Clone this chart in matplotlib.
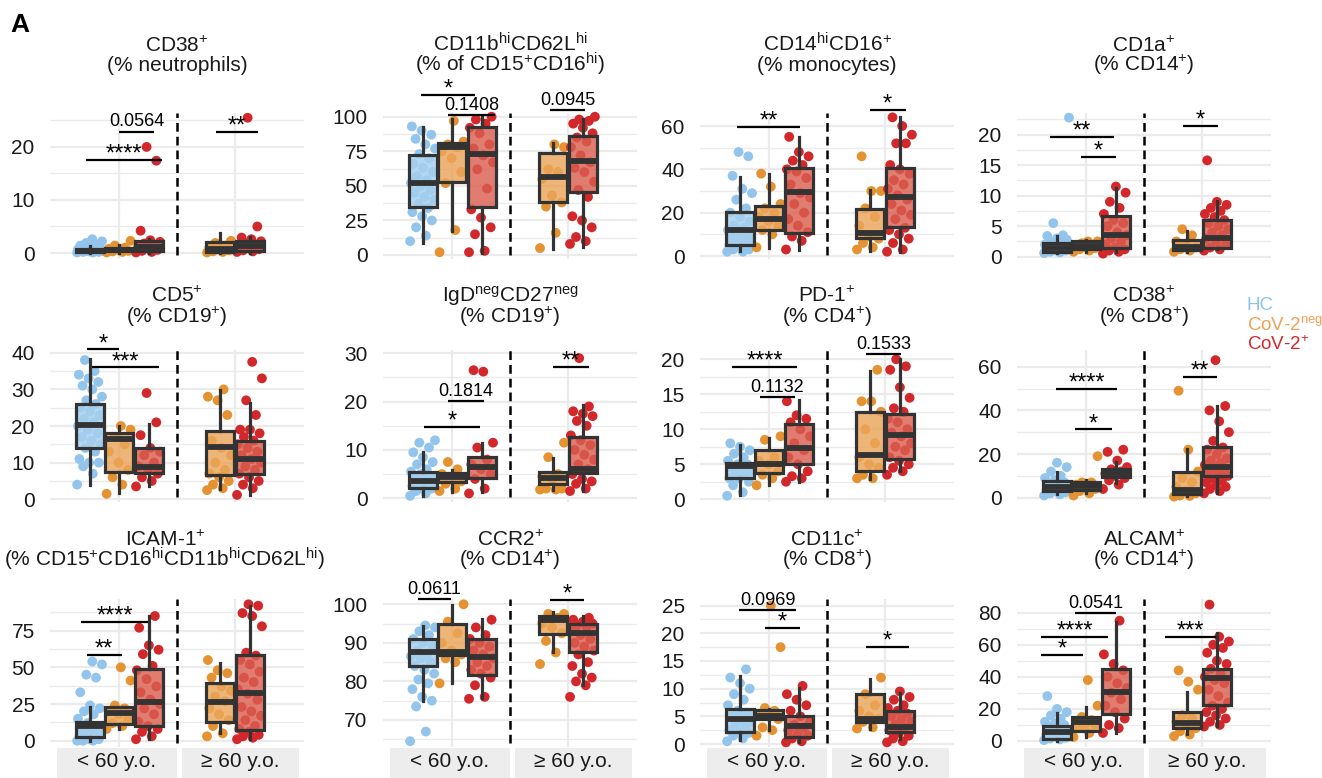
# -*- coding: utf-8 -*-
"""Box plots of immune phenotypes: HC vs CoV-2neg vs CoV-2+, split by age."""
import matplotlib
matplotlib.use('Agg')
# pylint: disable=wrong-import-position
import matplotlib.pyplot as plt
import matplotlib.transforms as mtransforms
from matplotlib.colors import to_rgba
from matplotlib.patches import Rectangle

plt.rcParams['font.family'] = ['Liberation Sans', 'DejaVu Sans']
plt.rcParams['mathtext.fontset'] = 'custom'
plt.rcParams['mathtext.rm'] = 'Liberation Sans'
plt.rcParams['mathtext.it'] = 'Liberation Sans:italic'
plt.rcParams['mathtext.bf'] = 'Liberation Sans:bold'

# groups, in drawing order: HC, CoV-2neg <60, CoV-2+ <60, CoV-2neg >=60, CoV-2+ >=60
GROUP_KIND = [0, 1, 2, 1, 2]
LEGEND_LABELS = ['HC', 'CoV-2$^{\\mathrm{neg}}$', 'CoV-2$^{+}$']
AGE_LABELS = ['< 60 y.o.', '\u2265 60 y.o.']

# ---- data ---------------------------------------------------------------
# boxes: (whisker low, q1, median, q3, whisker high) per group
P1_TITLE = ('CD38$^{+}$', '(% neutrophils)')
P1_TICKS = [0, 10, 20]
P1_BOX = [(0.0, 0.2, 0.4, 0.7, 1.3), (0.0, 0.3, 0.5, 1.0, 1.6),
          (0.0, 0.4, 1.2, 2.2, 2.6), (0.0, 0.2, 0.7, 2.0, 3.8),
          (0.0, 0.3, 1.3, 2.2, 3.0)]
P1_PTS = [[0.1, 0.1, 0.2, 0.2, 0.3, 0.3, 0.3, 0.4, 0.4, 0.5, 0.5, 0.6, 0.6,
           0.7, 0.8, 0.9, 1.0, 1.2, 1.4, 1.6, 1.9, 2.2, 2.6],
          [0.1, 0.2, 0.3, 0.4, 0.6, 0.8, 1.0, 1.4, 2.3],
          [0.1, 0.2, 0.4, 0.6, 0.9, 1.2, 1.5, 1.8, 2.1, 2.4, 4.2, 17.4, 20.0],
          [0.1, 0.2, 0.3, 0.5, 0.7, 1.0, 1.4, 1.9, 2.3],
          [0.2, 0.3, 0.5, 0.7, 0.9, 1.2, 1.5, 1.8, 2.2, 2.6, 2.9, 5.0, 25.5]]
P1_SIG = [(0.71, 1.37, 17.5, '****'), (1.0, 1.30, 22.9, '0.0564'),
          (1.84, 2.20, 22.9, '**')]

P2_TITLE = ('CD11b$^{\\mathrm{hi}}$CD62L$^{\\mathrm{hi}}$',
            '(% of CD15$^{+}$CD16$^{\\mathrm{hi}}$)')
P2_TICKS = [0, 25, 50, 75, 100]
P2_BOX = [(8.4, 34.5, 52.3, 72.3, 92.8), (17, 53, 78, 81, 98),
          (1.2, 34.5, 73, 92.8, 99.5), (4, 38.6, 56.6, 73.5, 80.7),
          (6, 45.8, 68, 86, 98)]
P2_PTS = [[10, 14, 20, 25, 28, 31, 34, 37, 40, 42, 45, 47, 50, 52, 54, 57, 60,
           63, 66, 70, 73, 77, 80, 84, 87, 90, 93],
          [2, 18, 52, 60, 70, 75, 78, 80, 82, 97],
          [2, 3, 15, 20, 27, 33, 48, 62, 67, 72, 77, 80, 88, 92, 95, 98, 100],
          [5, 16, 35, 38, 43, 55, 60, 62, 78, 80],
          [8, 10, 13, 20, 25, 28, 42, 47, 53, 60, 63, 67, 72, 78, 82, 85, 88,
           92, 95, 97, 98, 100]]
P2_SIG = [(0.73, 1.2, 115.7, '*'), (0.965, 1.37, 101.2, '0.1408'),
          (1.85, 2.15, 104.8, '0.0945')]

P3_TITLE = ('CD14$^{\\mathrm{hi}}$CD16$^{+}$', '(% monocytes)')
P3_TICKS = [0, 20, 40, 60]
P3_BOX = [(2.5, 5.1, 12, 20.5, 36.6), (3.5, 12, 17, 23, 38),
          (3, 10.5, 29.7, 40.5, 55), (2.5, 8.2, 10.5, 21.5, 30.5),
          (2, 13.5, 27.4, 40.5, 64)]
P3_PTS = [[2, 2, 3, 3, 4, 5, 5, 6, 7, 8, 9, 10, 11, 12, 13, 14, 16, 18, 20,
           22, 26, 29, 31, 37, 46, 48],
          [4, 10, 12, 14, 16, 18, 20, 22, 24, 32, 38],
          [3, 7, 9, 11, 14, 17, 20, 24, 27, 29, 33, 36, 39, 40, 42, 44, 46, 48,
           55],
          [3, 4, 6, 8, 9, 14, 18, 22, 30, 30, 46],
          [2, 3, 6, 8, 10, 12, 13, 17, 19, 21, 24, 26, 28, 31, 33, 35, 38, 40,
           42, 52, 52, 56, 60, 64]]
P3_SIG = [(0.72, 1.27, 59.7, '**'), (1.87, 2.18, 67.4, '*')]

P4_TITLE = ('CD1a$^{+}$', '(% CD14$^{+}$)')
P4_TICKS = [0, 5, 10, 15, 20]
P4_BOX = [(0.65, 0.8, 1.5, 2.2, 3.4), (0.8, 1.2, 1.8, 2.5, 2.7),
          (0.8, 1.4, 3.6, 6.7, 11.2), (0.8, 1.1, 1.6, 2.8, 4.2),
          (1.2, 1.4, 3.0, 6.0, 9.1)]
P4_PTS = [[0.6, 0.7, 0.8, 1.0, 1.0, 1.1, 1.2, 1.3, 1.4, 1.5, 1.6, 1.7, 1.9,
           2.0, 2.2, 2.5, 2.8, 3.0, 3.4, 3.5, 5.5, 22.8],
          [0.8, 1.0, 1.2, 1.4, 1.5, 1.8, 2.0, 2.2, 2.5, 2.5],
          [0.5, 0.8, 1.0, 1.2, 1.5, 2.0, 2.5, 3.0, 3.5, 4.0, 5.0, 5.5, 6.0,
           7.0, 8.0, 9.0, 10.5, 11.5],
          [0.8, 1.0, 1.2, 1.5, 2.0, 2.5, 3.5, 4.5],
          [1.0, 1.2, 1.5, 2.0, 2.5, 3.0, 3.5, 4.0, 4.5, 5.0, 5.5, 6.0, 6.5,
           7.0, 7.5, 8.0, 8.5, 9.0, 15.8]]
P4_SIG = [(0.69, 1.24, 19.6, '**'), (0.95, 1.26, 16.4, '*'),
          (1.84, 2.14, 21.5, '*')]

P5_TITLE = ('CD5$^{+}$', '(% CD19$^{+}$)')
P5_TICKS = [0, 10, 20, 30, 40]
P5_BOX = [(3.9, 13.9, 20.3, 26, 38.2), (1.8, 7.5, 16.5, 18.2, 20),
          (3.6, 7.1, 8.8, 14.1, 20.5), (2.7, 6.6, 14.4, 18.5, 29.8),
          (1.2, 6.9, 10.9, 16, 26.2)]
P5_PTS = [[4, 7, 9, 10, 10, 11, 13, 14, 15, 16, 17, 18, 19, 20, 21, 22, 23, 24,
           25, 26, 27, 28, 30, 31, 32, 33, 34, 35, 38],
          [1.5, 4, 6, 8, 10, 13, 15, 17, 19, 20],
          [3.5, 5, 6, 7, 8, 9, 10, 12, 13, 14, 17.5, 21, 29],
          [2.5, 3, 4, 5, 6, 7, 8, 10, 12, 14, 16, 23, 27, 28, 30],
          [1.2, 3, 4, 5, 6, 7, 8, 9, 10, 11, 12, 13, 14, 15, 16, 17, 18, 19, 19,
           23, 27, 33, 37.5]]
P5_SIG = [(0.72, 1.0, 40.9, '*'), (0.76, 1.34, 36.0, '***')]

P6_TITLE = ('IgD$^{\\mathrm{neg}}$CD27$^{\\mathrm{neg}}$', '(% CD19$^{+}$)')
P6_TICKS = [0, 10, 20, 30]
P6_BOX = [(0.5, 2.1, 3.5, 5.5, 9.6), (1.4, 3.4, 4.3, 5.2, 5.9),
          (1.4, 4.1, 6.4, 8.6, 11.4), (1.8, 2.9, 4.1, 5.5, 8.3),
          (1.6, 5.3, 6.0, 12.6, 19.3)]
P6_PTS = [[0.5, 1, 1.5, 2, 2, 2.5, 3, 3, 3.5, 4, 4, 4.5, 5, 5.5, 6, 7, 7.5,
           8.5, 9.5, 10.5, 11.5, 12],
          [1.5, 2, 3, 3.5, 4, 5, 6, 7.5],
          [1, 2, 4, 5, 6, 7, 8, 10.5, 11.5, 26.2, 26.5],
          [1.8, 1.8, 2, 2, 4, 4.5, 5, 8.5, 11.5],
          [1.5, 2, 3, 3.5, 4, 5, 6, 7, 8, 9, 10, 11, 12, 13, 15, 16, 17, 17.5,
           18, 19, 29]]
P6_SIG = [(0.965, 1.275, 20.1, '0.1814'), (0.755, 1.24, 14.8, '*'),
          (1.87, 2.18, 27.1, '**')]

P7_TITLE = ('PD-1$^{+}$', '(% CD4$^{+}$)')
P7_TICKS = [0, 5, 10, 15, 20]
P7_BOX = [(0.6, 3.1, 4.7, 5.2, 7.8), (2, 3.7, 5.1, 7.1, 8.7),
          (2.5, 5.0, 7.3, 10.8, 14.2), (2.9, 4.1, 6.3, 12.5, 18.4),
          (4, 5.7, 9.2, 12.2, 20)]
P7_PTS = [[0.5, 1, 2, 2.5, 3, 3, 3.5, 4, 4, 4.5, 4.5, 5, 5, 5.5, 6, 6.5, 7,
           7.5, 8],
          [2, 3, 3.5, 4, 5, 5.5, 6, 8.5, 9],
          [2.5, 3, 3.3, 4, 5, 6, 7, 8, 9, 10, 11, 11.5, 12, 14],
          [3, 3, 3.5, 4.5, 5, 6, 8, 10, 12.5, 14, 14, 18.5],
          [3.5, 4, 4.5, 5, 5.5, 6, 7, 7.5, 8, 9, 9.5, 10, 11, 11.5, 12.5, 13,
           14.5, 16, 18.5, 19, 20]]
P7_SIG = [(0.68, 1.24, 18.9, '****'), (0.92, 1.22, 14.6, '0.1132'),
          (1.84, 2.14, 20.7, '0.1533')]

P8_TITLE = ('CD38$^{+}$', '(% CD8$^{+}$)')
P8_TICKS = [0, 20, 40, 60]
P8_BOX = [(1.7, 3.2, 5, 7.8, 11.9), (2.3, 3.5, 5.3, 7.3, 8),
          (6.6, 9.6, 11.5, 13, 16.5), (0.8, 1.7, 3.5, 11.9, 22.2),
          (2.3, 10, 14, 23, 42)]
P8_PTS = [[1, 1.5, 2, 2.5, 3, 3.5, 4, 4.5, 5, 5.5, 6, 7, 8, 9, 10, 12, 14, 16],
          [1, 2, 3, 4, 5, 6, 7, 7, 19],
          [4, 6, 8, 9, 10, 11, 12, 13, 14, 17, 21, 22],
          [0.5, 0.8, 1, 2, 3, 5, 7, 9, 12, 22, 49],
          [2, 3, 4, 5, 6, 7, 8, 9, 10, 11, 12, 13, 14, 15, 16, 17, 18, 20, 22,
           23, 26, 30, 35, 40, 42, 63]]
P8_SIG = [(0.74, 1.27, 49.8, '****'), (0.90, 1.22, 31.3, '*'),
          (1.84, 2.13, 55.4, '**')]

P9_TITLE = ('ICAM-1$^{+}$', '(% CD15$^{+}$CD16$^{\\mathrm{hi}}$CD11b'
            '$^{\\mathrm{hi}}$CD62L$^{\\mathrm{hi}}$)')
P9_TICKS = [0, 25, 50, 75]
P9_BOX = [(0, 2.3, 10, 13, 22.7), (7.7, 11.4, 19.1, 23.2, 23.2),
          (1, 10, 26.6, 48.7, 85), (5, 13, 26.6, 39.6, 53.2),
          (1, 7.3, 32.3, 58.4, 91.8)]
P9_PTS = [[0, 0, 0, 1, 1, 2, 3, 4, 5, 6, 8, 10, 12, 15, 18, 20, 22, 24, 33, 43,
           45, 52, 54],
          [8, 10, 12, 15, 18, 20, 22, 24, 41, 50],
          [1, 3, 6, 8, 10, 13, 18, 22, 25, 28, 33, 37, 42, 48, 51, 59, 62, 65,
           77, 85],
          [3, 5, 10, 14, 18, 22, 27, 30, 34, 37, 43, 46, 48, 55],
          [1, 2, 3, 4, 6, 8, 10, 14, 17, 20, 23, 28, 32, 35, 40, 43, 47, 52, 55,
           58, 60, 78, 85, 87, 92, 93]]
P9_SIG = [(0.67, 1.25, 81.1, '****'), (0.72, 1.02, 58.4, '**')]

P10_TITLE = ('CCR2$^{+}$', '(% CD14$^{+}$)')
P10_TICKS = [70, 80, 90, 100]
P10_BOX = [(74.8, 84, 87.7, 90.9, 94.4), (79.5, 86.9, 87.7, 94.9, 99.8),
           (75.6, 81.7, 86.4, 90.9, 96.1), (87.7, 92.3, 96, 97, 98.1),
           (79, 87.7, 92.6, 94.9, 97)]
P10_PTS = [[64.5, 67, 73.5, 75, 76, 78, 79.5, 80.5, 82, 83, 84, 85, 86, 86.5,
            87, 88, 89, 90, 91, 92, 93, 94, 94.5],
           [79.5, 85, 86, 87, 88, 90, 92.5, 95.5, 100],
           [75.5, 76, 79, 81, 82, 83, 84, 85, 86, 87, 88, 89, 90, 91, 92, 94,
            96],
           [84.5, 87.5, 90.5, 92.5, 94, 95, 96.5, 97.5, 97.5],
           [76, 79, 80, 81, 82, 84, 85, 87, 88, 89, 90, 91, 92, 93, 94, 94.5,
            95, 95.5, 96, 96.5]]
P10_SIG = [(0.70, 0.99, 101.3, '0.0611'), (1.85, 2.14, 101.1, '*')]

P11_TITLE = ('CD11c$^{+}$', '(% CD8$^{+}$)')
P11_TICKS = [0, 5, 10, 15, 20, 25]
P11_BOX = [(0.7, 2.2, 4.6, 6.3, 12.2), (2.5, 4.6, 5.1, 6.1, 6.4),
           (0.4, 1.3, 3.3, 5.1, 10.2), (2.8, 4.0, 4.6, 9.0, 11.7),
           (0.85, 2.2, 3.0, 6.0, 9.3)]
P11_PTS = [[0.5, 1, 1.5, 2, 2, 2.5, 3, 3.5, 4, 4.5, 5, 5.5, 6, 7, 8, 9, 10, 11,
            12, 13.5],
           [1.5, 2.5, 3, 4.5, 5, 5.5, 6, 6.5, 17.5, 25],
           [0.3, 0.5, 1, 1.5, 2, 2.5, 3, 3.5, 4, 5, 6, 7, 8, 9, 10.5],
           [2.8, 3, 4, 4.5, 5, 6, 7, 9, 12],
           [0.3, 0.5, 1, 1.5, 2, 2.5, 3, 3.5, 4, 4.5, 5, 5.5, 6, 6.5, 7, 8, 8.5,
            9.5]]
P11_SIG = [(0.74, 1.23, 24.2, '0.0969'), (0.96, 1.27, 20.9, '*'),
           (1.84, 2.21, 17.5, '*')]

P12_TITLE = ('ALCAM$^{+}$', '(% CD14$^{+}$)')
P12_TICKS = [0, 20, 40, 60, 80]
P12_BOX = [(0.2, 1, 5.8, 9.4, 17.7), (2.7, 6.4, 12, 14.8, 21.4),
           (4.8, 16.8, 30.8, 44.7, 74.4), (4.4, 7.9, 11.4, 18.3, 30.8),
           (9.4, 22.5, 39, 44.7, 67.2)]
P12_PTS = [[0.5, 1, 1.5, 2, 3, 4, 5, 6, 7, 8, 9, 10, 11, 12, 14, 16, 18, 20,
            28],
           [2.5, 5, 8, 10, 11, 12, 13, 15, 22, 38],
           [5, 8, 10, 14, 18, 22, 26, 30, 33, 36, 40, 44, 48, 54, 75],
           [3, 4, 6, 8, 10, 12, 14, 16, 32, 37, 44],
           [9, 10, 12, 14, 16, 18, 20, 22, 24, 28, 32, 36, 38, 40, 42, 45, 48,
            50, 55, 58, 60, 62, 65, 85]]
P12_SIG = [(0.90, 1.26, 79.6, '0.0541'), (0.61, 1.19, 65.0, '****'),
           (0.61, 0.97, 53.6, '*'), (1.68, 2.12, 65.0, '***')]

# y ranges of each panel (grid order)
YLIMS = [(-1.13, 26.4), (-2.9, 102.7), (-1.38, 66.0), (-0.38, 23.56),
         (-0.74, 40.74), (-0.77, 30.68), (-0.39, 21.33), (-1.97, 67.65),
         (-4.3, 96.6), (63.0, 101.37), (-0.54, 26.2), (-3.74, 88.5)]

PANELS = [
    (P1_TITLE, P1_TICKS, P1_BOX, P1_PTS, P1_SIG),
    (P2_TITLE, P2_TICKS, P2_BOX, P2_PTS, P2_SIG),
    (P3_TITLE, P3_TICKS, P3_BOX, P3_PTS, P3_SIG),
    (P4_TITLE, P4_TICKS, P4_BOX, P4_PTS, P4_SIG),
    (P5_TITLE, P5_TICKS, P5_BOX, P5_PTS, P5_SIG),
    (P6_TITLE, P6_TICKS, P6_BOX, P6_PTS, P6_SIG),
    (P7_TITLE, P7_TICKS, P7_BOX, P7_PTS, P7_SIG),
    (P8_TITLE, P8_TICKS, P8_BOX, P8_PTS, P8_SIG),
    (P9_TITLE, P9_TICKS, P9_BOX, P9_PTS, P9_SIG),
    (P10_TITLE, P10_TICKS, P10_BOX, P10_PTS, P10_SIG),
    (P11_TITLE, P11_TICKS, P11_BOX, P11_PTS, P11_SIG),
    (P12_TITLE, P12_TICKS, P12_BOX, P12_PTS, P12_SIG),
]

# ---- styling / layout ---------------------------------------------------
FIG_W, FIG_H = 1322, 778
COL_LEFT_PX = [50, 383, 700, 1017]
PANEL_W_PX = 254
ROW_TOP_PX = [113, 350, 599]
ROW_BOT_PX = [259, 502, 747]
TITLE_BASE_PX = [(51.7, 71.0), (301.5, 323.0), (546.0, 566.5)]
TITLE_CENTER_SHIFT_PX = {8: -12}

POSITIONS = [0.745, 1.0, 1.255, 1.87, 2.13]
POINT_COLORS = ['#93C5EC', '#E59332', '#D3282B']
BOX_FILLS = ['#A6CFEE', '#EBA55A', '#DA5F50']
LEGEND_COLORS = ['#8EC3EC', '#F0A158', '#D3282B']
EDGE = '#333333'
GRID = '#EBEBEB'


def jitter(n, width=0.11):
    """Deterministic spread of n points across +-width."""
    return [((i * 0.6180339887) % 1.0 - 0.5) * 2 * width for i in range(n)]


def draw_panel(fig, idx, spec, ylim):
    """One boxplot panel."""
    title, ticks, boxes, points, sigs = spec
    row, col = divmod(idx, 4)
    top, bot = ROW_TOP_PX[row], ROW_BOT_PX[row]
    ax = fig.add_axes([COL_LEFT_PX[col] / FIG_W, 1 - bot / FIG_H,
                       PANEL_W_PX / FIG_W, (bot - top) / FIG_H])
    ax.set_xlim(0.4, 2.6)
    ax.set_ylim(*ylim)
    for spine in ax.spines.values():
        spine.set_visible(False)
    ax.set_xticks([])
    ax.set_yticks(ticks)
    ax.tick_params(axis='y', length=0, labelsize=15, pad=11,
                   labelcolor='#1a1a1a')

    # grid
    step = ticks[1] - ticks[0]
    for t in ticks:
        ax.axhline(t, color=GRID, lw=1.6, zorder=0)
    minor = ticks[0] - step / 2
    while minor <= ylim[1]:
        if minor >= ylim[0]:
            ax.axhline(minor, color=GRID, lw=1.0, zorder=0)
        minor += step
    for xv in (1, 2):
        ax.axvline(xv, color=GRID, lw=1.6, zorder=0)
    ax.axvline(1.5, ymin=0.03, ymax=1, color='black', lw=1.8,
               ls=(0, (3.5, 2)), zorder=1)

    # points
    for g, vals in enumerate(points):
        offs = jitter(len(vals))
        ax.scatter([POSITIONS[g] + o for o in offs], vals, s=50,
                   color=POINT_COLORS[GROUP_KIND[g]], edgecolors='none',
                   zorder=2, clip_on=False)

    # boxes
    stats = [dict(whislo=b[0], q1=b[1], med=b[2], q3=b[3], whishi=b[4],
                  fliers=[]) for b in boxes]
    res = ax.bxp(stats, positions=POSITIONS, widths=0.24, patch_artist=True,
                 showfliers=False, showcaps=False, manage_ticks=False,
                 boxprops=dict(edgecolor=EDGE, linewidth=2.3),
                 whiskerprops=dict(color=EDGE, linewidth=2.3),
                 medianprops=dict(color=EDGE, linewidth=4.2,
                                  solid_capstyle='butt'),
                 zorder=3)
    for g, patch in enumerate(res['boxes']):
        patch.set_facecolor(to_rgba(BOX_FILLS[GROUP_KIND[g]], 0.82))

    # significance brackets
    for x1, x2, yv, label in sigs:
        ax.plot([x1, x2], [yv, yv], color='black', lw=1.6, clip_on=False,
                zorder=4, solid_capstyle='butt')
        if label.startswith('*'):
            ax.annotate(label, ((x1 + x2) / 2, yv), xytext=(0, -0.5),
                        textcoords='offset points', ha='center',
                        va='baseline', fontsize=17, annotation_clip=False)
        else:
            ax.annotate(label, ((x1 + x2) / 2, yv), xytext=(0, 1),
                        textcoords='offset points', ha='center',
                        va='bottom', fontsize=13, annotation_clip=False)

    # titles
    cx = (COL_LEFT_PX[col] + PANEL_W_PX / 2
          + TITLE_CENTER_SHIFT_PX.get(idx, 0)) / FIG_W
    for line, base in zip(title, TITLE_BASE_PX[row]):
        fig.text(cx, 1 - base / FIG_H, line, ha='center', va='baseline',
                 fontsize=15, color='#1a1a1a')

    # age strips on bottom row
    if row == 2:
        trans = mtransforms.blended_transform_factory(ax.transData,
                                                      ax.transAxes)
        for (x0, x1), lab in zip([(0.46, 1.5), (1.54, 2.56)], AGE_LABELS):
            ax.add_patch(Rectangle((x0, -0.24), x1 - x0, 0.23,
                                   transform=trans, facecolor='#EDEDED',
                                   edgecolor='none', clip_on=False))
            ax.text((x0 + x1) / 2, -0.095, lab, transform=trans,
                    ha='center', va='center', fontsize=15, color='#1a1a1a')
    return ax


def main():
    """main."""
    fig = plt.figure(figsize=(FIG_W / 100, FIG_H / 100), dpi=100)
    for idx, spec in enumerate(PANELS):
        draw_panel(fig, idx, spec, YLIMS[idx])

    for lab, col, base in zip(LEGEND_LABELS, LEGEND_COLORS,
                              [310, 330, 350]):
        fig.text(1247 / FIG_W, 1 - base / FIG_H, lab, color=col,
                 fontsize=13.5, ha='left', va='baseline')

    fig.text(10 / FIG_W, 1 - 32 / FIG_H, 'A', fontsize=19,
             fontweight='bold', ha='left', va='baseline')
    fig.savefig('out.png', dpi=100)


if __name__ == '__main__':
    main()
